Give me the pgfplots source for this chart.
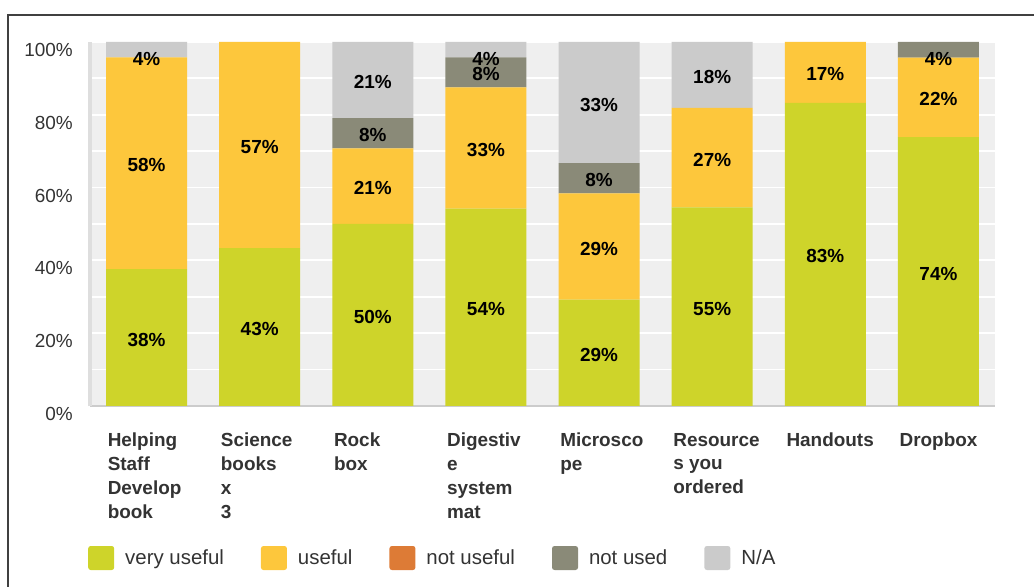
\documentclass[border=0pt]{standalone}
\usepackage{pgfplots}
\pgfplotsset{compat=1.18}
\usepackage{pgfplotstable}
\usepackage{fontspec}
\setmainfont{Liberation Sans}
\definecolor{vuse}{HTML}{CED42A}
\definecolor{use}{HTML}{FDC73C}
\definecolor{nuse}{HTML}{DD7B36}
\definecolor{nused}{HTML}{8A8A78}
\definecolor{na}{HTML}{CBCBCB}
\definecolor{plotbg}{HTML}{EFEFEF}
\definecolor{txt}{HTML}{333333}

% columns: category index, percentage
\pgfplotstableread{
x y
0 37.6
1 43.4
2 50.0
3 54.2
4 29.2
5 54.6
6 83.3
7 73.9
}\veryuseful
\pgfplotstableread{
x y
0 58.2
1 56.6
2 20.8
3 33.3
4 29.2
5 27.3
6 16.7
7 21.8
}\useful
\pgfplotstableread{
x y
0 0
1 0
2 0
3 0
4 0
5 0
6 0
7 0
}\notuseful
\pgfplotstableread{
x y
0 0
1 0
2 8.3
3 8.3
4 8.3
5 0
6 0
7 4.3
}\notused
\pgfplotstableread{
x y
0 4.2
1 0
2 20.9
3 4.2
4 33.3
5 18.1
6 0
7 0
}\na

\pgfplotsset{
  lbl/.style={
    point meta=explicit,
    visualization depends on={rawy \as \val},
    nodes near coords={\pgfmathfloatifflags{\pgfplotspointmeta}{0}{}{\pgfmathprintnumber[fixed,precision=0]{\pgfplotspointmeta}\%}},
    every node near coord/.append style={font=\bfseries\fontsize{19}{23}\selectfont, text=black, anchor=center, inner sep=0pt, yshift={-(2+max(0,15-1.82*\val))*1bp}},
  },
}

\begin{document}
\begin{tikzpicture}
\path[use as bounding box] (0,0) rectangle (1034bp,587bp);
\draw[color=black!75, line width=1.5bp] (8bp,0) -- (8bp,572bp) -- (1034bp,572bp);
\begin{axis}[
  at={(90bp,181bp)}, anchor=south west,
  scale only axis, width=905bp, height=364bp,
  ybar stacked, bar width=81bp,
  xmin=-0.5, xmax=7.5, ymin=0, ymax=100,
  axis background/.style={fill=plotbg},
  axis lines*=left,
  x axis line style={draw=black!20, line width=2bp},
  y axis line style={draw=black!13, line width=3bp},
  major tick length=0pt, minor tick length=0pt,
  ytick={0,20,40,60,80,100},
  minor ytick={10,30,50,70,90},
  ymajorgrids, yminorgrids,
  major grid style={draw=white, line width=1.8bp},
  minor grid style={draw=white, line width=1.8bp},
  /pgf/number format/assume math mode=true,
  yticklabel={\pgfmathprintnumber{\tick}\%},
  yticklabel style={font=\fontsize{19}{23}\selectfont, text=txt, anchor=east, inner sep=0pt, xshift=-17bp, yshift=-8bp},
  xtick={0,1,2,3,4,5,6,7},
  xticklabels={Helping\\Staff\\Develop\\book, Science\\books\\x\\3, Rock\\box, Digestiv\\e\\system\\mat, Microsco\\pe, Resource\\s you\\ordered, Handouts, Dropbox},
  xticklabel style={font=\bfseries\fontsize{19}{23.8}\selectfont, text=txt, align=left, anchor=north west, inner sep=0pt, xshift=-39bp, yshift=-27bp},
  every axis plot/.append style={draw=none},
  legend columns=5,
  legend cell align=left,
  legend image code/.code={\fill[#1, draw=none, rounded corners=2.5bp] (0bp,-12bp) rectangle (26bp,12bp);},
  legend style={at={(0,0)}, anchor=west, xshift=-2bp, yshift=-152bp, draw=none, fill=none, inner sep=0pt,
    font=\fontsize{20.5}{24}\selectfont, text=txt, nodes={inner sep=0pt},
    /tikz/every odd column/.append style={column sep=11bp},
    /tikz/every even column/.append style={column sep=37bp}},
]
\addplot[fill=vuse, lbl] table[x=x, y=y, meta=y] {\veryuseful};
\addplot[fill=use, lbl] table[x=x, y=y, meta=y] {\useful};
\addplot[fill=nuse, lbl] table[x=x, y=y, meta=y] {\notuseful};
\addplot[fill=nused, lbl] table[x=x, y=y, meta=y] {\notused};
\addplot[fill=na, lbl] table[x=x, y=y, meta=y] {\na};
\legend{very useful, useful, not useful, not used, N/A}
\end{axis}
\end{tikzpicture}
\end{document}
